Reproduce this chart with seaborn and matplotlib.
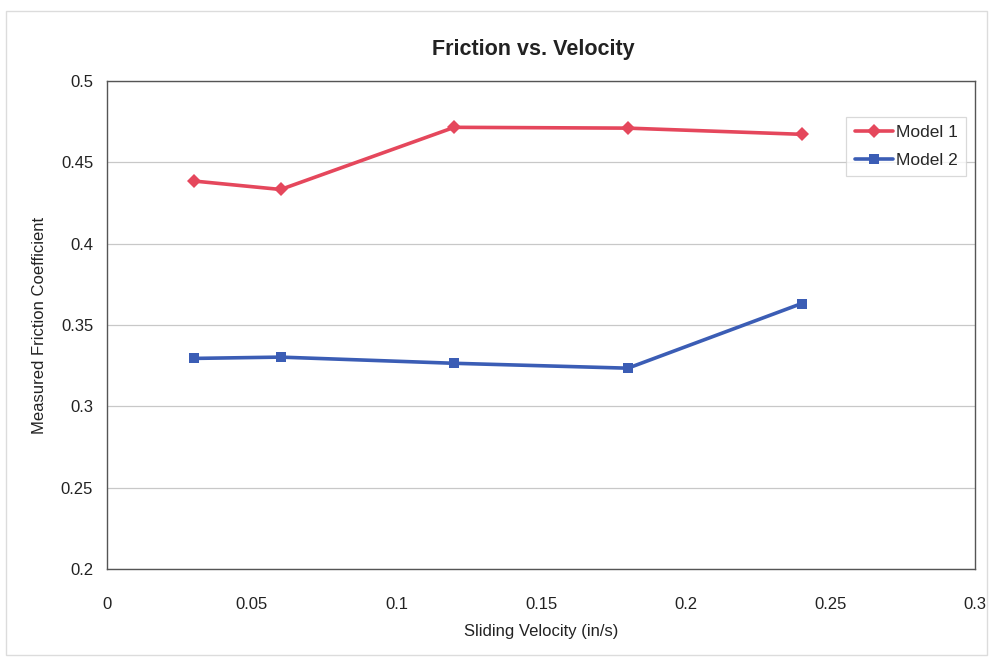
import matplotlib
matplotlib.use("Agg")
import matplotlib.pyplot as plt
import seaborn as sns
import pandas as pd
from matplotlib.patches import Rectangle

velocity = [0.03, 0.06, 0.12, 0.18, 0.24]
model1 = [0.4385, 0.4333, 0.4715, 0.4710, 0.4672]
model2 = [0.3295, 0.3303, 0.3265, 0.3235, 0.3632]
series_names = ["Model 1", "Model 2"]
colors = ["#E5475C", "#3B5DB5"]
markers = ["D", "s"]
x_ticks = [0, 0.05, 0.1, 0.15, 0.2, 0.25, 0.3]
y_ticks = [0.2, 0.25, 0.3, 0.35, 0.4, 0.45, 0.5]

df = pd.DataFrame({
    "velocity": velocity * 2,
    "friction": model1 + model2,
    "series": [series_names[0]] * len(velocity) + [series_names[1]] * len(velocity),
})

sns.set_style("white")
plt.rcParams["font.family"] = ["Liberation Sans", "DejaVu Sans"]

fig = plt.figure(figsize=(9.91, 6.58), dpi=100)
ax = fig.add_axes([0.108, 0.135, 0.876, 0.742])

# faint outer chart frame
fig.patches.append(Rectangle((0.006, 0.005), 0.99, 0.978, transform=fig.transFigure,
                             fill=False, edgecolor="#dcdcdc", linewidth=1.0))

sns.lineplot(data=df, x="velocity", y="friction", hue="series", style="series",
             palette=colors, markers=markers, dashes=False, linewidth=2.6,
             markersize=7, markeredgewidth=0, ax=ax)

ax.set_xlim(0, 0.3)
ax.set_ylim(0.2, 0.5)
ax.set_xticks(x_ticks)
ax.set_xticklabels([f"{t:g}" for t in x_ticks])
ax.set_yticks(y_ticks)
ax.set_yticklabels([f"{t:g}" for t in y_ticks])
ax.yaxis.grid(True, color="#c8c8c8", linewidth=0.9)
ax.xaxis.grid(False)
for s in ax.spines.values():
    s.set_color("#555555")
    s.set_linewidth(1.0)
ax.tick_params(axis="both", labelsize=12, colors="#222222", length=4,
               direction="out", width=0.8)
ax.tick_params(axis="x", pad=16, color="#cccccc")
ax.tick_params(axis="y", pad=6, color="#555555")

ax.set_xlabel("Sliding Velocity (in/s)", fontsize=12, color="#222222", labelpad=9)
ax.set_ylabel("Measured Friction Coefficient", fontsize=12, color="#222222", labelpad=10)
ax.set_title("")
fig.text(533 / 991, 1 - 49 / 658, "Friction vs. Velocity", fontsize=15.5,
         fontweight="bold", color="#222222", ha="center", va="center")

leg = ax.legend(title=None, loc="upper right", bbox_to_anchor=(0.990, 0.927),
                fontsize=12.5, frameon=True, fancybox=False, borderpad=0.5,
                handlelength=2.2, handletextpad=0.15, labelspacing=0.7,
                borderaxespad=0)
leg.get_frame().set_edgecolor("#d0d0d0")
leg.get_frame().set_linewidth(0.9)

fig.savefig("out.png", dpi=100, facecolor="white")
